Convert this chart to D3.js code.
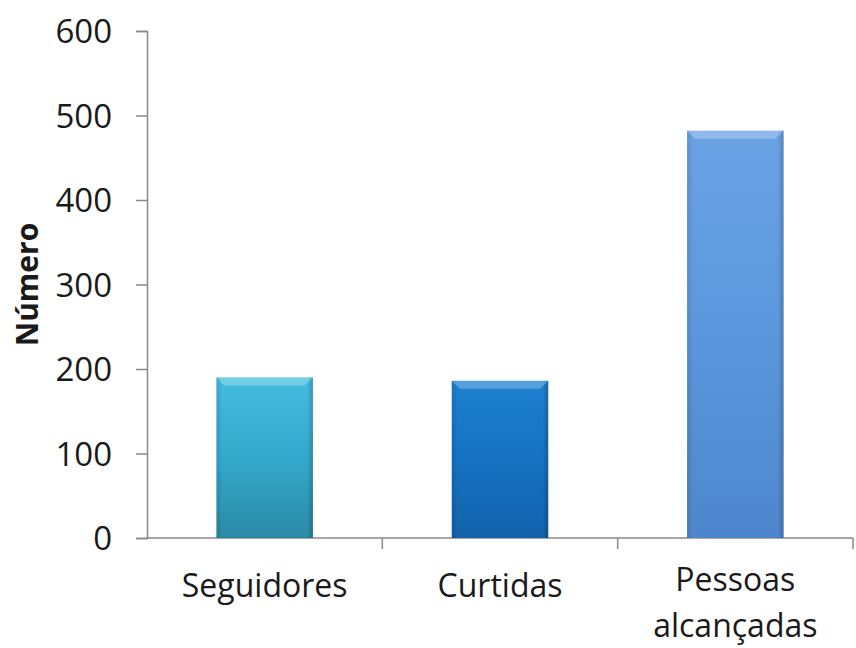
<!DOCTYPE html>
<head>
<style>
  body { margin: 0; background: #fff; }
  text { font-family: "Open Sans", sans-serif; fill: #1a1a1a; }
</style>
</head>
<body>
<svg width="856" height="648"></svg>
<script src="https://d3js.org/d3.v7.min.js"></script>
<script>

var categories = [["Seguidores"], ["Curtidas"], ["Pessoas", "alcançadas"]];
var values = [190, 186, 482];
var yTicks = [0, 100, 200, 300, 400, 500, 600];
var barColors = [
  {top: "#44bde0", mid: "#34a9cc", bottom: "#2a8aa6"},
  {top: "#1d80cf", mid: "#1672c2", bottom: "#1262aa"},
  {top: "#6aa3e4", mid: "#5b97dd", bottom: "#4d86cc"}
];

var svg = d3.select("svg"),
    margin = {top: 31, right: 3, bottom: 110, left: 147},
    width = +svg.attr("width") - margin.left - margin.right,
    height = +svg.attr("height") - margin.top - margin.bottom,
    g = svg.append("g").attr("transform", "translate(" + margin.left + "," + margin.top + ")");

var keys = categories.map(function(c) { return c.join(" "); });

var x = d3.scaleBand().domain(keys).range([0, width]).paddingInner(0.59).paddingOuter(0.295);
var xb = d3.scaleBand().domain(keys).range([0, width]); // for boundary ticks
var y = d3.scaleLinear().domain([0, 600]).range([height, 0]);

// gradients
var defs = svg.append("defs");
barColors.forEach(function(c, i) {
  var gr = defs.append("linearGradient").attr("id", "grad" + i)
      .attr("x1", 0).attr("y1", 0).attr("x2", 0).attr("y2", 1);
  gr.append("stop").attr("offset", "0%").attr("stop-color", c.top);
  gr.append("stop").attr("offset", "50%").attr("stop-color", c.mid);
  gr.append("stop").attr("offset", "100%").attr("stop-color", c.bottom);
  var side = defs.append("linearGradient").attr("id", "side" + i)
      .attr("x1", 0).attr("y1", 0).attr("x2", 1).attr("y2", 0);
  side.append("stop").attr("offset", "0%").attr("stop-color", "#000").attr("stop-opacity", 0.12);
  side.append("stop").attr("offset", "6%").attr("stop-color", "#000").attr("stop-opacity", 0);
  side.append("stop").attr("offset", "94%").attr("stop-color", "#000").attr("stop-opacity", 0);
  side.append("stop").attr("offset", "100%").attr("stop-color", "#000").attr("stop-opacity", 0.2);
});

// y axis
var yAxis = g.append("g")
    .call(d3.axisLeft(y).tickValues(yTicks).tickSize(11).tickPadding(24));
yAxis.select(".domain").attr("stroke", "#888").attr("stroke-width", 1.5);
yAxis.selectAll(".tick line").attr("stroke", "#888").attr("stroke-width", 1.5);
yAxis.selectAll(".tick text").style("font-size", "33px").attr("fill", "#1a1a1a").attr("dy", "0.36em");

// x axis baseline and boundary ticks
var xAxis = g.append("g").attr("transform", "translate(0," + height + ")");
xAxis.append("line").attr("x1", 0).attr("x2", width).attr("stroke", "#888").attr("stroke-width", 1.5);
xAxis.selectAll(".bt").data(keys).enter().append("line")
    .attr("x1", function(d) { return xb(d) + xb.bandwidth(); })
    .attr("x2", function(d) { return xb(d) + xb.bandwidth(); })
    .attr("y1", 0).attr("y2", 11).attr("stroke", "#888").attr("stroke-width", 1.5);

// bars
var bars = g.selectAll(".bar").data(values).enter().append("g");
bars.append("rect")
    .attr("x", function(d, i) { return x(keys[i]); })
    .attr("y", function(d) { return y(d); })
    .attr("width", x.bandwidth())
    .attr("height", function(d) { return height - y(d); })
    .attr("fill", function(d, i) { return "url(#grad" + i + ")"; });
bars.append("rect")
    .attr("x", function(d, i) { return x(keys[i]); })
    .attr("y", function(d) { return y(d); })
    .attr("width", x.bandwidth())
    .attr("height", function(d) { return height - y(d); })
    .attr("fill", function(d, i) { return "url(#side" + i + ")"; });
// top bevel highlight
bars.append("path")
    .attr("d", function(d, i) {
      var x0 = x(keys[i]), x1 = x0 + x.bandwidth(), y0 = y(d), b = 8;
      return "M" + x0 + "," + y0 + "L" + x1 + "," + y0 + "L" + (x1 - b) + "," + (y0 + b) + "L" + (x0 + b) + "," + (y0 + b) + "Z";
    })
    .attr("fill", "#fff").attr("fill-opacity", 0.25);

// category labels
var labels = g.append("g").selectAll("text").data(categories).enter().append("text")
    .attr("text-anchor", "middle")
    .style("font-size", "32px")
    .attr("transform", function(d, i) {
      var dy = d.length > 1 ? 53 : 59;
      return "translate(" + (x(keys[i]) + x.bandwidth() / 2) + "," + (height + dy) + ")";
    });
labels.selectAll("tspan").data(function(d) { return d; }).enter().append("tspan")
    .attr("x", 0)
    .attr("dy", function(d, j) { return j === 0 ? 0 : 46; })
    .text(function(d) { return d; });

// y title
svg.append("text")
    .attr("transform", "translate(38," + (margin.top + height / 2) + ") rotate(-90)")
    .attr("text-anchor", "middle")
    .style("font-size", "30px")
    .style("font-weight", "bold")
    .text("Número");

</script>
</body>
